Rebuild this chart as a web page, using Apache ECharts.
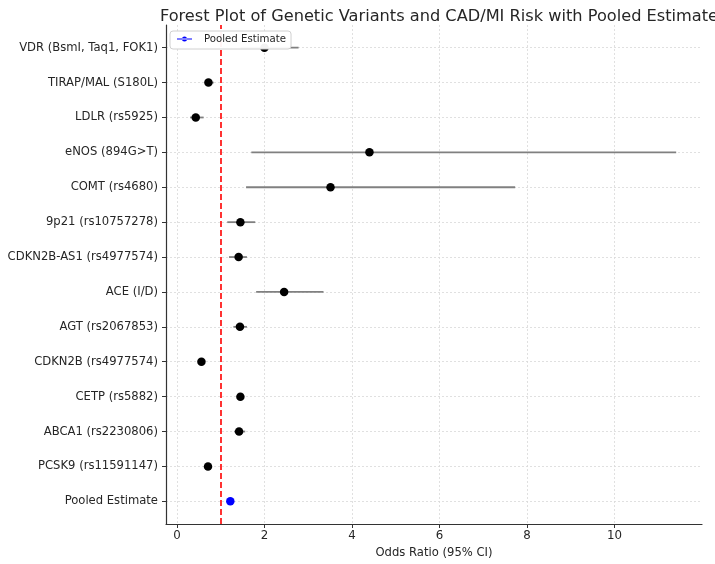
<!DOCTYPE html>
<html>
<head>
<meta charset="utf-8">
<script src="https://cdn.jsdelivr.net/npm/echarts@6/dist/echarts.min.js"></script>
<style>html,body{margin:0;padding:0;background:#fff;}#c{width:715px;height:564px;}</style>
</head>
<body>
<div id="c"></div>
<script>
// Rows listed from top to bottom
const variants = ["VDR (BsmI, Taq1, FOK1)", "TIRAP/MAL (S180L)", "LDLR (rs5925)", "eNOS (894G>T)", "COMT (rs4680)", "9p21 (rs10757278)", "CDKN2B-AS1 (rs4977574)", "ACE (I/D)", "AGT (rs2067853)", "CDKN2B (rs4977574)", "CETP (rs5882)", "ABCA1 (rs2230806)", "PCSK9 (rs11591147)", "Pooled Estimate"];
const oddsRatio = [2.00, 0.72, 0.43, 4.40, 3.51, 1.45, 1.41, 2.45, 1.44, 0.56, 1.45, 1.42, 0.71, 1.22];
const ciLower  = [1.45, 0.65, 0.30, 1.70, 1.58, 1.15, 1.19, 1.81, 1.29, 0.52, 1.38, 1.31, 0.66, 1.18];
const ciUpper  = [2.78, 0.84, 0.61, 11.41, 7.73, 1.79, 1.60, 3.35, 1.60, 0.60, 1.52, 1.56, 0.76, 1.26];
const xTicks = [0, 2, 4, 6, 8, 10];
const refLine = 1;

const n = variants.length;
const yIdx = variants.map((_, i) => n - 1 - i);
const studyIdx = variants.map((_, i) => i).filter(i => i < n - 1);
const pooledIdx = n - 1;

const ebData = variants.map((_, i) => [ciLower[i], ciUpper[i], yIdx[i]]);
const studyPts = studyIdx.map(i => [oddsRatio[i], yIdx[i]]);
const pooledPts = [[oddsRatio[pooledIdx], yIdx[pooledIdx]]];

const chart = echarts.init(document.getElementById('c'), null, {renderer: 'canvas'});
const font = 'DejaVu Sans';
chart.setOption({
  animation: false,
  backgroundColor: '#fff',
  title: {
    text: 'Forest Plot of Genetic Variants and CAD/MI Risk with Pooled Estimate',
    left: 434, textAlign: 'center', top: 4,
    textStyle: {fontFamily: font, fontSize: 16.2, fontWeight: 'normal', color: '#262626'}
  },
  legend: {
    z: 10,
    data: [{name: 'Pooled Estimate', icon: 'path://M0,3.3 H24 V4.7 H0 Z M8,4 a4,4 0 1,0 8,0 a4,4 0 1,0 -8,0 Z'}],
    left: 170, top: 31,
    itemWidth: 15, itemHeight: 7, itemGap: 6,
    padding: [3, 5, 5, 7],
    borderColor: '#d0d0d0', borderWidth: 1, borderRadius: 3,
    backgroundColor: 'rgba(255,255,255,0.95)',
    textStyle: {fontFamily: font, fontSize: 10.2, color: '#262626', padding: [0, 0, 0, 7]}
  },
  grid: {left: 166, right: 13, top: 25, bottom: 38, containLabel: false},
  xAxis: {
    type: 'value', min: -0.25, max: 12.0,
    name: 'Odds Ratio (95% CI)', nameLocation: 'middle', nameGap: 23,
    nameTextStyle: {fontFamily: font, fontSize: 11.6, color: '#262626'},
    axisLine: {show: true, onZero: false, lineStyle: {color: '#333', width: 1.2}},
    axisTick: {show: true, length: 4, customValues: xTicks, lineStyle: {color: '#333'}},
    axisLabel: {customValues: xTicks, fontFamily: font, fontSize: 11.8, color: '#262626', margin: 6},
    splitLine: {show: true, lineStyle: {color: '#d8d8d8', type: [2, 2], width: 0.8}}
  },
  yAxis: {
    type: 'value', min: -0.65, max: 13.65,
    axisLine: {show: true, onZero: false, lineStyle: {color: '#333', width: 1.2}},
    axisTick: {show: true, length: 4, customValues: yIdx, lineStyle: {color: '#333'}},
    axisLabel: {
      customValues: yIdx, fontFamily: font, fontSize: 11.6, color: '#262626', margin: 8,
      formatter: v => variants[n - 1 - Math.round(v)]
    },
    splitLine: {show: true, lineStyle: {color: '#d8d8d8', type: [2, 2], width: 0.8}}
  },
  series: [
    {
      type: 'custom', name: 'ci', silent: true, z: 2,
      data: ebData,
      encode: {x: [0, 1], y: 2},
      renderItem: (params, api) => {
        const a = api.coord([api.value(0), api.value(2)]);
        const b = api.coord([api.value(1), api.value(2)]);
        return {type: 'line', shape: {x1: a[0], y1: a[1], x2: b[0], y2: b[1]},
          style: {stroke: '#808080', lineWidth: 1.8}};
      }
    },
    {
      type: 'scatter', name: 'Studies', data: studyPts, symbolSize: 8.5, z: 3,
      itemStyle: {color: '#000', opacity: 1}
    },
    {
      type: 'scatter', name: 'Pooled Estimate', data: pooledPts, symbolSize: 8.5, z: 3,
      itemStyle: {color: '#0000ff', opacity: 1},
      markLine: {
        silent: true, symbol: ['none', 'none'], label: {show: false},
        lineStyle: {color: '#ff0000', type: [6, 3], width: 1.6},
        data: [{xAxis: refLine}]
      }
    }
  ]
});
</script>
</body>
</html>
